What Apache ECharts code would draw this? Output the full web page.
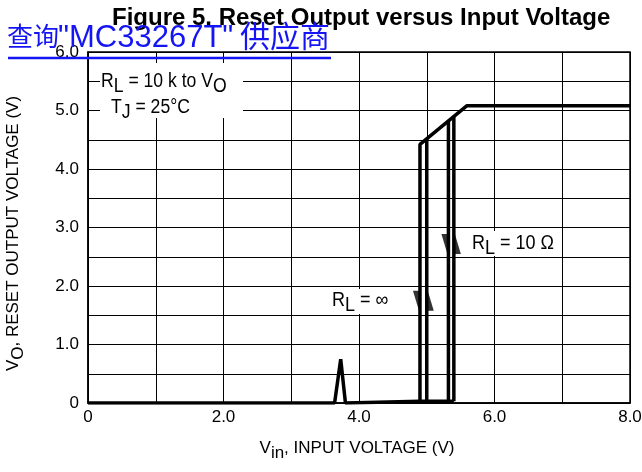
<!DOCTYPE html>
<html>
<head>
<meta charset="utf-8">
<script src="https://cdn.jsdelivr.net/npm/echarts@6/dist/echarts.min.js"></script>
<style>
  html, body { margin: 0; padding: 0; background: #fff; }
  #chart { width: 642px; height: 472px; }
</style>
</head>
<body>
<div id="chart"></div>
<script>
// tick labels
var xTickLabels = ['0', '2.0', '4.0', '6.0', '8.0'];
var yTickLabels = ['0', '1.0', '2.0', '3.0', '4.0', '5.0', '6.0'];

// curve pieces: [Vin, Vo]
var baseLine  = [[0, 0], [3.64, 0], [3.73, 0.75], [3.80, 0], [4.9, 0.03], [5.40, 0.03]];
var topLine   = [[4.9, 0.03], [4.9, 4.42], [5.59, 5.08], [8, 5.08]];
var infRise   = [[5.0, 0.03], [5.0, 4.52]];
var tenFall   = [[5.32, 0.03], [5.32, 4.83]];
var tenRise   = [[5.40, 0.03], [5.40, 4.91]];
var downArrows = [[4.9, 1.75], [5.32, 2.72]];
var upArrows   = [[5.0, 1.75], [5.40, 2.72]];

var font = "'Liberation Sans', Arial, sans-serif";
var blue = '#1414f5';
var chart = echarts.init(document.getElementById('chart'));

function curve(data) {
  return {
    type: 'line', data: data, symbol: 'none', z: 3,
    lineStyle: { color: '#000', width: 3.5 }
  };
}

// rich styles for a subscript dropped below the line
function subRich(size, key) {
  var r = {};
  r.n = { fontFamily: font, fontSize: size, verticalAlign: 'top', lineHeight: size + 2 };
  r.s = { fontFamily: font, fontSize: size, verticalAlign: 'top', lineHeight: size + 2, padding: [5, 0, 0, 0] };
  r.n[key] = '#000';
  r.s[key] = '#000';
  return r;
}

function note(x, y, text, sx) {
  return {
    type: 'text', x: x, y: y, scaleX: sx, z: 11,
    style: { text: text, rich: subRich(20, 'fill') }
  };
}

var series = [baseLine, topLine, infRise, tenFall, tenRise].map(curve);
series.push({
  type: 'scatter', data: downArrows, z: 4,
  symbol: 'path://M0,0 L6,0 L6,20 Z', symbolSize: [6, 20], symbolOffset: [-4, 0],
  itemStyle: { color: '#000' }
});
series.push({
  type: 'scatter', data: upArrows, z: 4,
  symbol: 'path://M0,0 L0,20 L6,20 Z', symbolSize: [6, 20], symbolOffset: [4, 0],
  itemStyle: { color: '#000' }
});

chart.setOption({
  animation: false,
  backgroundColor: '#fff',
  grid: {
    left: 88, right: 12, top: 52, bottom: 69, outerBoundsMode: 'none',
    show: true, borderColor: '#000', borderWidth: 1.5
  },
  xAxis: {
    type: 'value', min: 0, max: 8, interval: 1,
    axisLine: { show: true, lineStyle: { color: '#000', width: 1.5 } },
    axisTick: { show: false },
    splitLine: { show: true, lineStyle: { color: '#000', width: 1 } },
    axisLabel: {
      color: '#000', fontFamily: font, fontSize: 17, margin: 6,
      formatter: function (v) { return v % 2 === 0 ? xTickLabels[v / 2] : ''; }
    },
    name: '{n|V}{s|in}{n|, INPUT VOLTAGE (V)}',
    nameLocation: 'middle', nameGap: 37,
    nameTextStyle: { color: '#000', fontFamily: font, fontSize: 17, padding: [0, 4, 0, 0], rich: subRich(17, 'color') }
  },
  yAxis: {
    type: 'value', min: 0, max: 6, interval: 0.5,
    axisLine: { show: true, lineStyle: { color: '#000', width: 1.5 } },
    axisTick: { show: false },
    splitLine: { show: true, lineStyle: { color: '#000', width: 1 } },
    axisLabel: {
      color: '#000', fontFamily: font, fontSize: 17, margin: 9,
      formatter: function (v) { return Number.isInteger(v) ? yTickLabels[v] : ''; }
    },
    name: '{n|V}{s|O}{n|, RESET OUTPUT VOLTAGE (V)}',
    nameLocation: 'middle', nameGap: 64,
    nameTextStyle: { color: '#000', fontFamily: font, fontSize: 17, padding: [0, 12, 0, 0], rich: subRich(17, 'color') }
  },
  series: series,
  graphic: [
    // title
    { type: 'text', x: 112, y: 6, z: 10,
      style: { text: 'Figure 5. Reset Output versus Input Voltage', fill: '#000',
               font: "bold 24px 'Liberation Sans', Arial, sans-serif" } },
    // overlay link
    { type: 'text', x: 7, y: 36, z: 11,
      style: { text: '查询', fill: blue, verticalAlign: 'middle',
               font: "26px 'Noto Sans CJK SC', sans-serif" } },
    { type: 'text', x: 58, y: 38, z: 11,
      style: { text: '"MC33267T"', fill: blue, verticalAlign: 'middle',
               font: "31px 'Liberation Sans', Arial, sans-serif" } },
    { type: 'text', x: 240, y: 36, z: 11,
      style: { text: '供应商', fill: blue, verticalAlign: 'middle',
               font: "30px 'Noto Sans CJK SC', sans-serif" } },
    { type: 'line', z: 11, shape: { x1: 8, y1: 58, x2: 331, y2: 58 },
      style: { stroke: blue, lineWidth: 2.5 } },
    // condition box
    { type: 'rect', z: 10, shape: { x: 100, y: 63, width: 143, height: 55 }, style: { fill: '#fff' } },
    note(101, 71, '{n|R}{s|L}{n| = 10 k to V}{s|O}', 0.88),
    note(111, 97, '{n|T}{s|J}{n| = 25°C}', 0.88),
    // R_L = 10 ohm
    { type: 'rect', z: 10, shape: { x: 468, y: 231, width: 90, height: 25 }, style: { fill: '#fff' } },
    note(472, 233, '{n|R}{s|L}{n| = 10 Ω}', 0.9),
    // R_L = infinity
    { type: 'rect', z: 10, shape: { x: 328, y: 289, width: 66, height: 25 }, style: { fill: '#fff' } },
    note(332, 290, '{n|R}{s|L}{n| = ∞}', 0.9)
  ]
});
</script>
</body>
</html>
